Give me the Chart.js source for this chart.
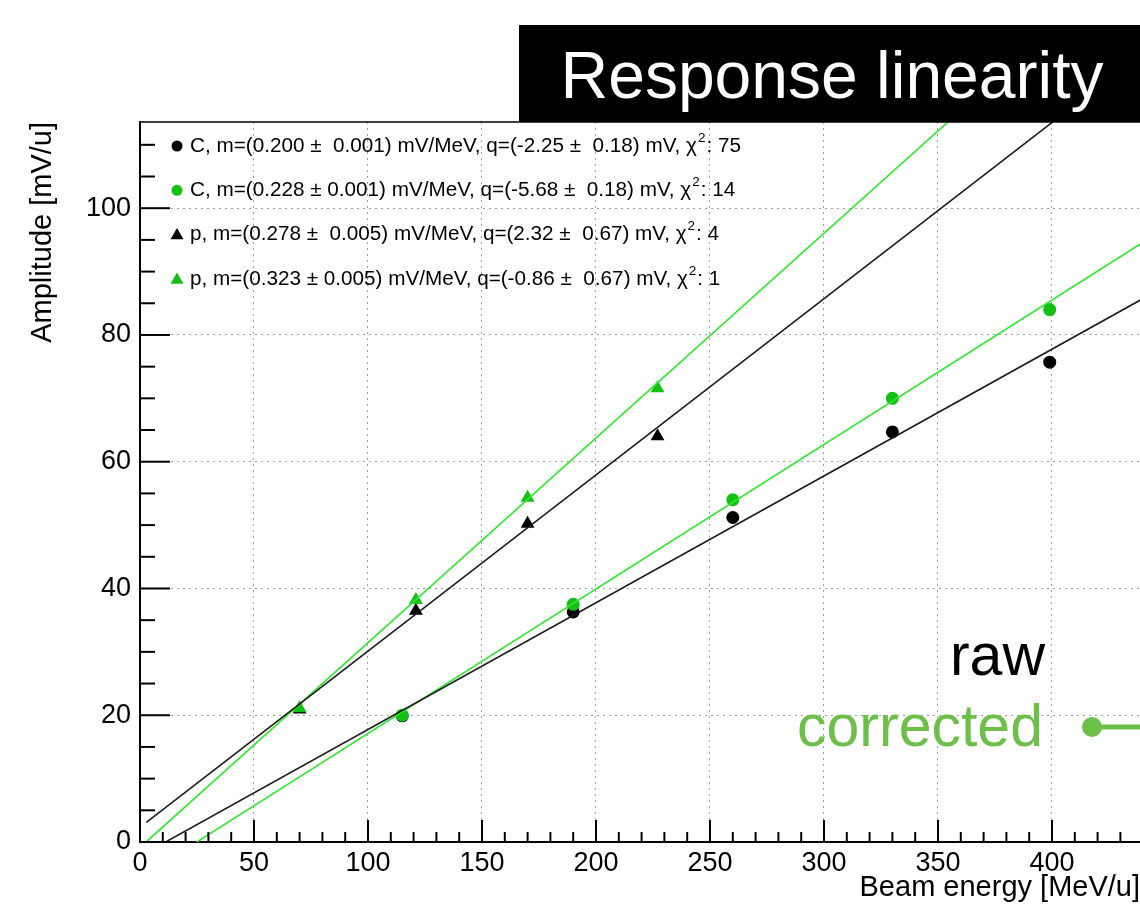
<!DOCTYPE html>
<html>
<head>
<meta charset="utf-8">
<script src="https://cdn.jsdelivr.net/npm/chart.js@4"></script>
<style>
  html, body { margin: 0; padding: 0; background: #fff; }
  #wrap { width: 1140px; height: 913px; }
</style>
</head>
<body>
<div id="wrap"><canvas id="chart" width="1140" height="913"></canvas></div>
<script>
// beam energies [MeV/u] and amplitudes [mV/u]
const carbonEnergy = [115, 190, 260, 330, 399];
const carbonRaw = [19.9, 36.3, 51.2, 64.7, 75.7];
const carbonCorrected = [20.0, 37.5, 54.0, 70.0, 84.0];
const protonEnergy = [70, 121, 170, 227];
const protonRaw = [20.9, 36.5, 50.2, 64.0];
const protonCorrected = [21.1, 38.2, 54.3, 71.6];

// linear fits y = m*x + q, same order as the legend
const fitSlopes = [0.200, 0.228, 0.278, 0.323];
const fitIntercepts = [-2.25, -5.68, 2.32, -0.86];
const fitLabels = [
  'C, m=(0.200 \u00b1  0.001) mV/MeV, q=(-2.25 \u00b1  0.18) mV, \u03c7^2: 75',
  'C, m=(0.228 \u00b1 0.001) mV/MeV, q=(-5.68 \u00b1  0.18) mV, \u03c7^2: 14',
  'p, m=(0.278 \u00b1  0.005) mV/MeV, q=(2.32 \u00b1  0.67) mV, \u03c7^2: 4',
  'p, m=(0.323 \u00b1 0.005) mV/MeV, q=(-0.86 \u00b1  0.67) mV, \u03c7^2: 1',
];
const fitRange = [2.8, 440];

const xTickValues = [0, 50, 100, 150, 200, 250, 300, 350, 400];
const yTickValues = [0, 20, 40, 60, 80, 100];

const FONT = '"Liberation Sans", Arial, Helvetica, sans-serif';
const BLACK = '#000000';
const GREEN = '#14c014';
const BLACK_LINE = '#1c1c1c';
const GREEN_LINE = '#2eea2e';
const NOTE_GREEN = '#6cbf47';

const toPoints = (xs, ys) => xs.map((x, i) => ({x: x, y: ys[i]}));

const series = [
  {label: 'C raw', data: toPoints(carbonEnergy, carbonRaw), color: BLACK, shape: 'circle'},
  {label: 'C corrected', data: toPoints(carbonEnergy, carbonCorrected), color: GREEN, shape: 'circle'},
  {label: 'p raw', data: toPoints(protonEnergy, protonRaw), color: BLACK, shape: 'triangle'},
  {label: 'p corrected', data: toPoints(protonEnergy, protonCorrected), color: GREEN, shape: 'triangle'},
];

const datasets = [];
series.forEach((s, i) => {
  const green = s.color === GREEN;
  datasets.push({
    label: s.label,
    data: s.data,
    showLine: false,
    pointStyle: s.shape,
    pointRadius: s.shape === 'circle' ? 6.5 : 8,
    pointBorderWidth: 0,
    pointBackgroundColor: s.color,
    order: green ? 2 : 3,
  });
  datasets.push({
    label: s.label + ' fit',
    data: fitRange.map(x => ({x: x, y: fitSlopes[i] * x + fitIntercepts[i]})),
    showLine: true,
    pointRadius: 0,
    borderWidth: 1.6,
    borderColor: green ? GREEN_LINE : BLACK_LINE,
    order: 1,
  });
});

function drawMarker(ctx, shape, x, y, r, color) {
  ctx.fillStyle = color;
  ctx.beginPath();
  if (shape === 'circle') {
    ctx.arc(x, y, r, 0, Math.PI * 2);
  } else {
    ctx.moveTo(x, y - r);
    ctx.lineTo(x + r * 0.866, y + r * 0.5);
    ctx.lineTo(x - r * 0.866, y + r * 0.5);
    ctx.closePath();
  }
  ctx.fill();
}

const rootStyle = {
  id: 'rootStyle',
  afterDatasetsDraw(chart) {
    const ctx = chart.ctx;
    const area = chart.chartArea;
    const xs = chart.scales.x;
    const ys = chart.scales.y;
    ctx.save();
    ctx.strokeStyle = '#000';
    ctx.lineWidth = 2;
    // x ticks drawn inside the frame
    for (let v = 0; v <= xs.max; v += 10) {
      const px = xs.getPixelForValue(v);
      const len = v % 50 === 0 ? 22 : 10;
      ctx.beginPath();
      ctx.moveTo(px, area.bottom);
      ctx.lineTo(px, area.bottom - len);
      ctx.stroke();
    }
    for (let v = 0; v <= ys.max; v += 5) {
      const py = ys.getPixelForValue(v);
      const len = v % 20 === 0 ? 30 : 15;
      ctx.beginPath();
      ctx.moveTo(area.left, py);
      ctx.lineTo(area.left + len, py);
      ctx.stroke();
    }
    // top frame line
    ctx.lineWidth = 1.5;
    ctx.beginPath();
    ctx.moveTo(area.left, area.top);
    ctx.lineTo(area.right, area.top);
    ctx.stroke();
    ctx.restore();
  },
  afterDraw(chart) {
    const ctx = chart.ctx;
    const area = chart.chartArea;
    ctx.save();

    // legend
    const rowTop = 146, rowGap = 44.3;
    ctx.textBaseline = 'middle';
    ctx.textAlign = 'left';
    fitLabels.forEach((lab, i) => {
      const y = rowTop + i * rowGap;
      const round = series[i].shape === 'circle';
      drawMarker(ctx, series[i].shape, 177, y + (round ? 0 : 1), round ? 5.5 : 7.5, series[i].color);
      const parts = lab.split('^2');
      let x = 190;
      ctx.fillStyle = '#000';
      ctx.font = '20.7px ' + FONT;
      ctx.fillText(parts[0], x, y);
      x += ctx.measureText(parts[0]).width;
      ctx.font = '13.5px ' + FONT;
      ctx.fillText('2', x + 1, y - 8);
      x += ctx.measureText('2').width + 2;
      ctx.font = '20.7px ' + FONT;
      ctx.fillText(parts[1], x, y);
    });

    // title box
    ctx.fillStyle = '#000';
    ctx.fillRect(519, 25, chart.width - 519, area.top - 25);
    ctx.fillStyle = '#fff';
    ctx.font = '66px ' + FONT;
    ctx.textAlign = 'center';
    ctx.textBaseline = 'alphabetic';
    ctx.fillText('Response linearity', 832, 98);

    // slide annotations
    ctx.textAlign = 'right';
    ctx.fillStyle = '#000';
    ctx.font = '59px ' + FONT;
    ctx.fillText('raw', 1045, 675);
    ctx.fillStyle = NOTE_GREEN;
    ctx.font = '59px ' + FONT;
    ctx.fillText('corrected', 1043, 746);
    ctx.strokeStyle = NOTE_GREEN;
    ctx.lineWidth = 5;
    ctx.beginPath();
    ctx.moveTo(1092, 727);
    ctx.lineTo(chart.width, 727);
    ctx.stroke();
    ctx.beginPath();
    ctx.arc(1092, 727, 10, 0, Math.PI * 2);
    ctx.fill();
    ctx.restore();
  }
};

const config = {
  type: 'scatter',
  data: {datasets: datasets},
  options: {
    responsive: false,
    animation: false,
    devicePixelRatio: 1,
    layout: {autoPadding: false, padding: {top: 122, right: 0, bottom: 0, left: 0}},
    plugins: {legend: {display: false}, tooltip: {enabled: false}},
    scales: {
      x: {
        type: 'linear',
        min: 0,
        max: 438.6,
        afterBuildTicks: scale => { scale.ticks = xTickValues.map(v => ({value: v})); },
        afterFit: scale => { scale.height = 71; },
        ticks: {color: '#000', font: {family: FONT, size: 27}, padding: 5, maxRotation: 0, autoSkip: false},
        grid: {color: '#a0a0a0', lineWidth: 1, drawTicks: false},
        border: {color: '#000', width: 2, dash: [2, 4]},
        title: {display: true, text: 'Beam energy [MeV/u]', align: 'end', color: '#000',
          font: {family: FONT, size: 29}, padding: {top: 0, bottom: 8}},
      },
      y: {
        type: 'linear',
        min: 0,
        max: 113.6,
        afterBuildTicks: scale => { scale.ticks = yTickValues.map(v => ({value: v})); },
        afterFit: scale => { scale.width = 140; },
        ticks: {color: '#000', font: {family: FONT, size: 27}, padding: 9, autoSkip: false},
        grid: {color: '#a0a0a0', lineWidth: 1, drawTicks: false},
        border: {color: '#000', width: 2, dash: [2, 4]},
        title: {display: true, text: 'Amplitude [mV/u]', align: 'end', color: '#000',
          font: {family: FONT, size: 29}, padding: {top: 26, bottom: 0}},
      }
    }
  },
  plugins: [rootStyle]
};

new Chart(document.getElementById('chart'), config);
</script>
</body>
</html>
